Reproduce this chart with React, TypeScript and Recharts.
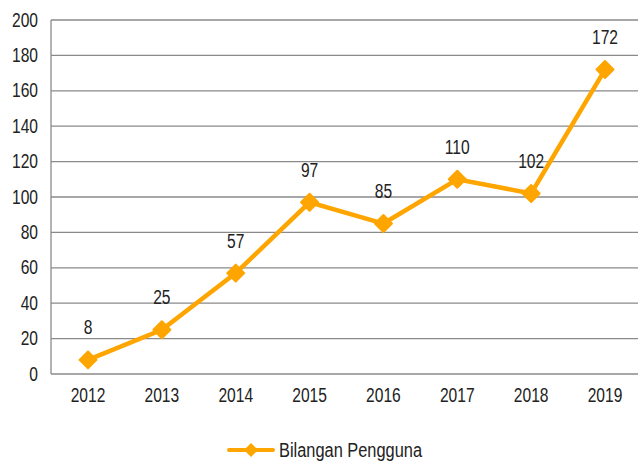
import { LineChart, Line, XAxis, YAxis, CartesianGrid, Legend, LabelList } from 'recharts';

const years = ['2012', '2013', '2014', '2015', '2016', '2017', '2018', '2019'];
const users = [8, 25, 57, 97, 85, 110, 102, 172];
const yTicks = [0, 20, 40, 60, 80, 100, 120, 140, 160, 180, 200];

const data = years.map((year, i) => ({ year, users: users[i] }));

const ORANGE = '#FFA500';
const FONT = '"Liberation Sans", Arial, sans-serif';
const SQUEEZE = 0.8;

// narrow text, the reference uses an Arial Narrow look
function NarrowText({ x, y, anchor, children }: any) {
  return (
    <text
      transform={`translate(${x},${y}) scale(${SQUEEZE},1)`}
      textAnchor={anchor}
      dominantBaseline="central"
      fill="#222"
      fontSize={19.5}
      fontFamily={FONT}
    >
      {children}
    </text>
  );
}

function XTick(props: any) {
  const { x, y, payload } = props;
  return <NarrowText x={x} y={y + 13} anchor="middle">{payload.value}</NarrowText>;
}

function YTick(props: any) {
  const { x, y, payload } = props;
  return <NarrowText x={x - 5} y={y} anchor="end">{payload.value}</NarrowText>;
}

function Diamond(props: any) {
  const { cx, cy } = props;
  if (cx == null || cy == null) return null;
  const r = 8.5;
  return (
    <polygon
      points={`${cx},${cy - r} ${cx + r},${cy} ${cx},${cy + r} ${cx - r},${cy}`}
      fill={ORANGE}
      stroke={ORANGE}
      strokeLinejoin="round"
      strokeWidth={2}
    />
  );
}

function PointLabel(props: any) {
  const { x, y, value } = props;
  return <NarrowText x={x} y={y - 32} anchor="middle">{value}</NarrowText>;
}

function LegendBox() {
  return (
    <div style={{ display: 'flex', justifyContent: 'center', alignItems: 'flex-end', height: 42, fontFamily: FONT, fontSize: 19.5, color: '#222', lineHeight: '22px' }}>
      <div style={{ display: 'flex', alignItems: 'center', marginLeft: 8 }}>
        <svg width={50} height={20} style={{ marginRight: 3 }}>
          <line x1={3} y1={10} x2={47} y2={10} stroke={ORANGE} strokeWidth={4} strokeLinecap="round" />
          <polygon points="25,3 32,10 25,17 18,10" fill={ORANGE} />
        </svg>
        <span style={{ display: 'inline-block', width: 145 }}>
          <span style={{ display: 'inline-block', transform: 'scaleX(0.84)', transformOrigin: 'left center', whiteSpace: 'nowrap' }}>
            Bilangan Pengguna
          </span>
        </span>
      </div>
    </div>
  );
}

export default function App() {
  return (
    <div style={{ position: 'absolute', left: 0, top: 0, width: 638, height: 461, overflow: 'hidden', background: '#fff' }}>
      <LineChart width={642} height={461} data={data} margin={{ top: 20, right: 0, left: 0, bottom: 0 }}>
        <CartesianGrid vertical={false} stroke="#8a8a8a" strokeWidth={1.3} />
        <XAxis
          dataKey="year"
          axisLine={false}
          tickLine={false}
          height={45}
          padding={{ left: 37, right: 37 }}
          tick={<XTick />}
        />
        <YAxis
          domain={[0, 200]}
          ticks={yTicks}
          width={51}
          axisLine={{ stroke: '#8a8a8a', strokeWidth: 1.3 }}
          tickLine={false}
          interval={0}
          tick={<YTick />}
        />
        <Legend verticalAlign="bottom" content={() => <LegendBox />} />
        <Line
          type="linear"
          dataKey="users"
          stroke={ORANGE}
          strokeWidth={4.5}
          dot={<Diamond />}
          activeDot={false}
          isAnimationActive={false}
        >
          <LabelList dataKey="users" content={<PointLabel />} />
        </Line>
      </LineChart>
    </div>
  );
}
